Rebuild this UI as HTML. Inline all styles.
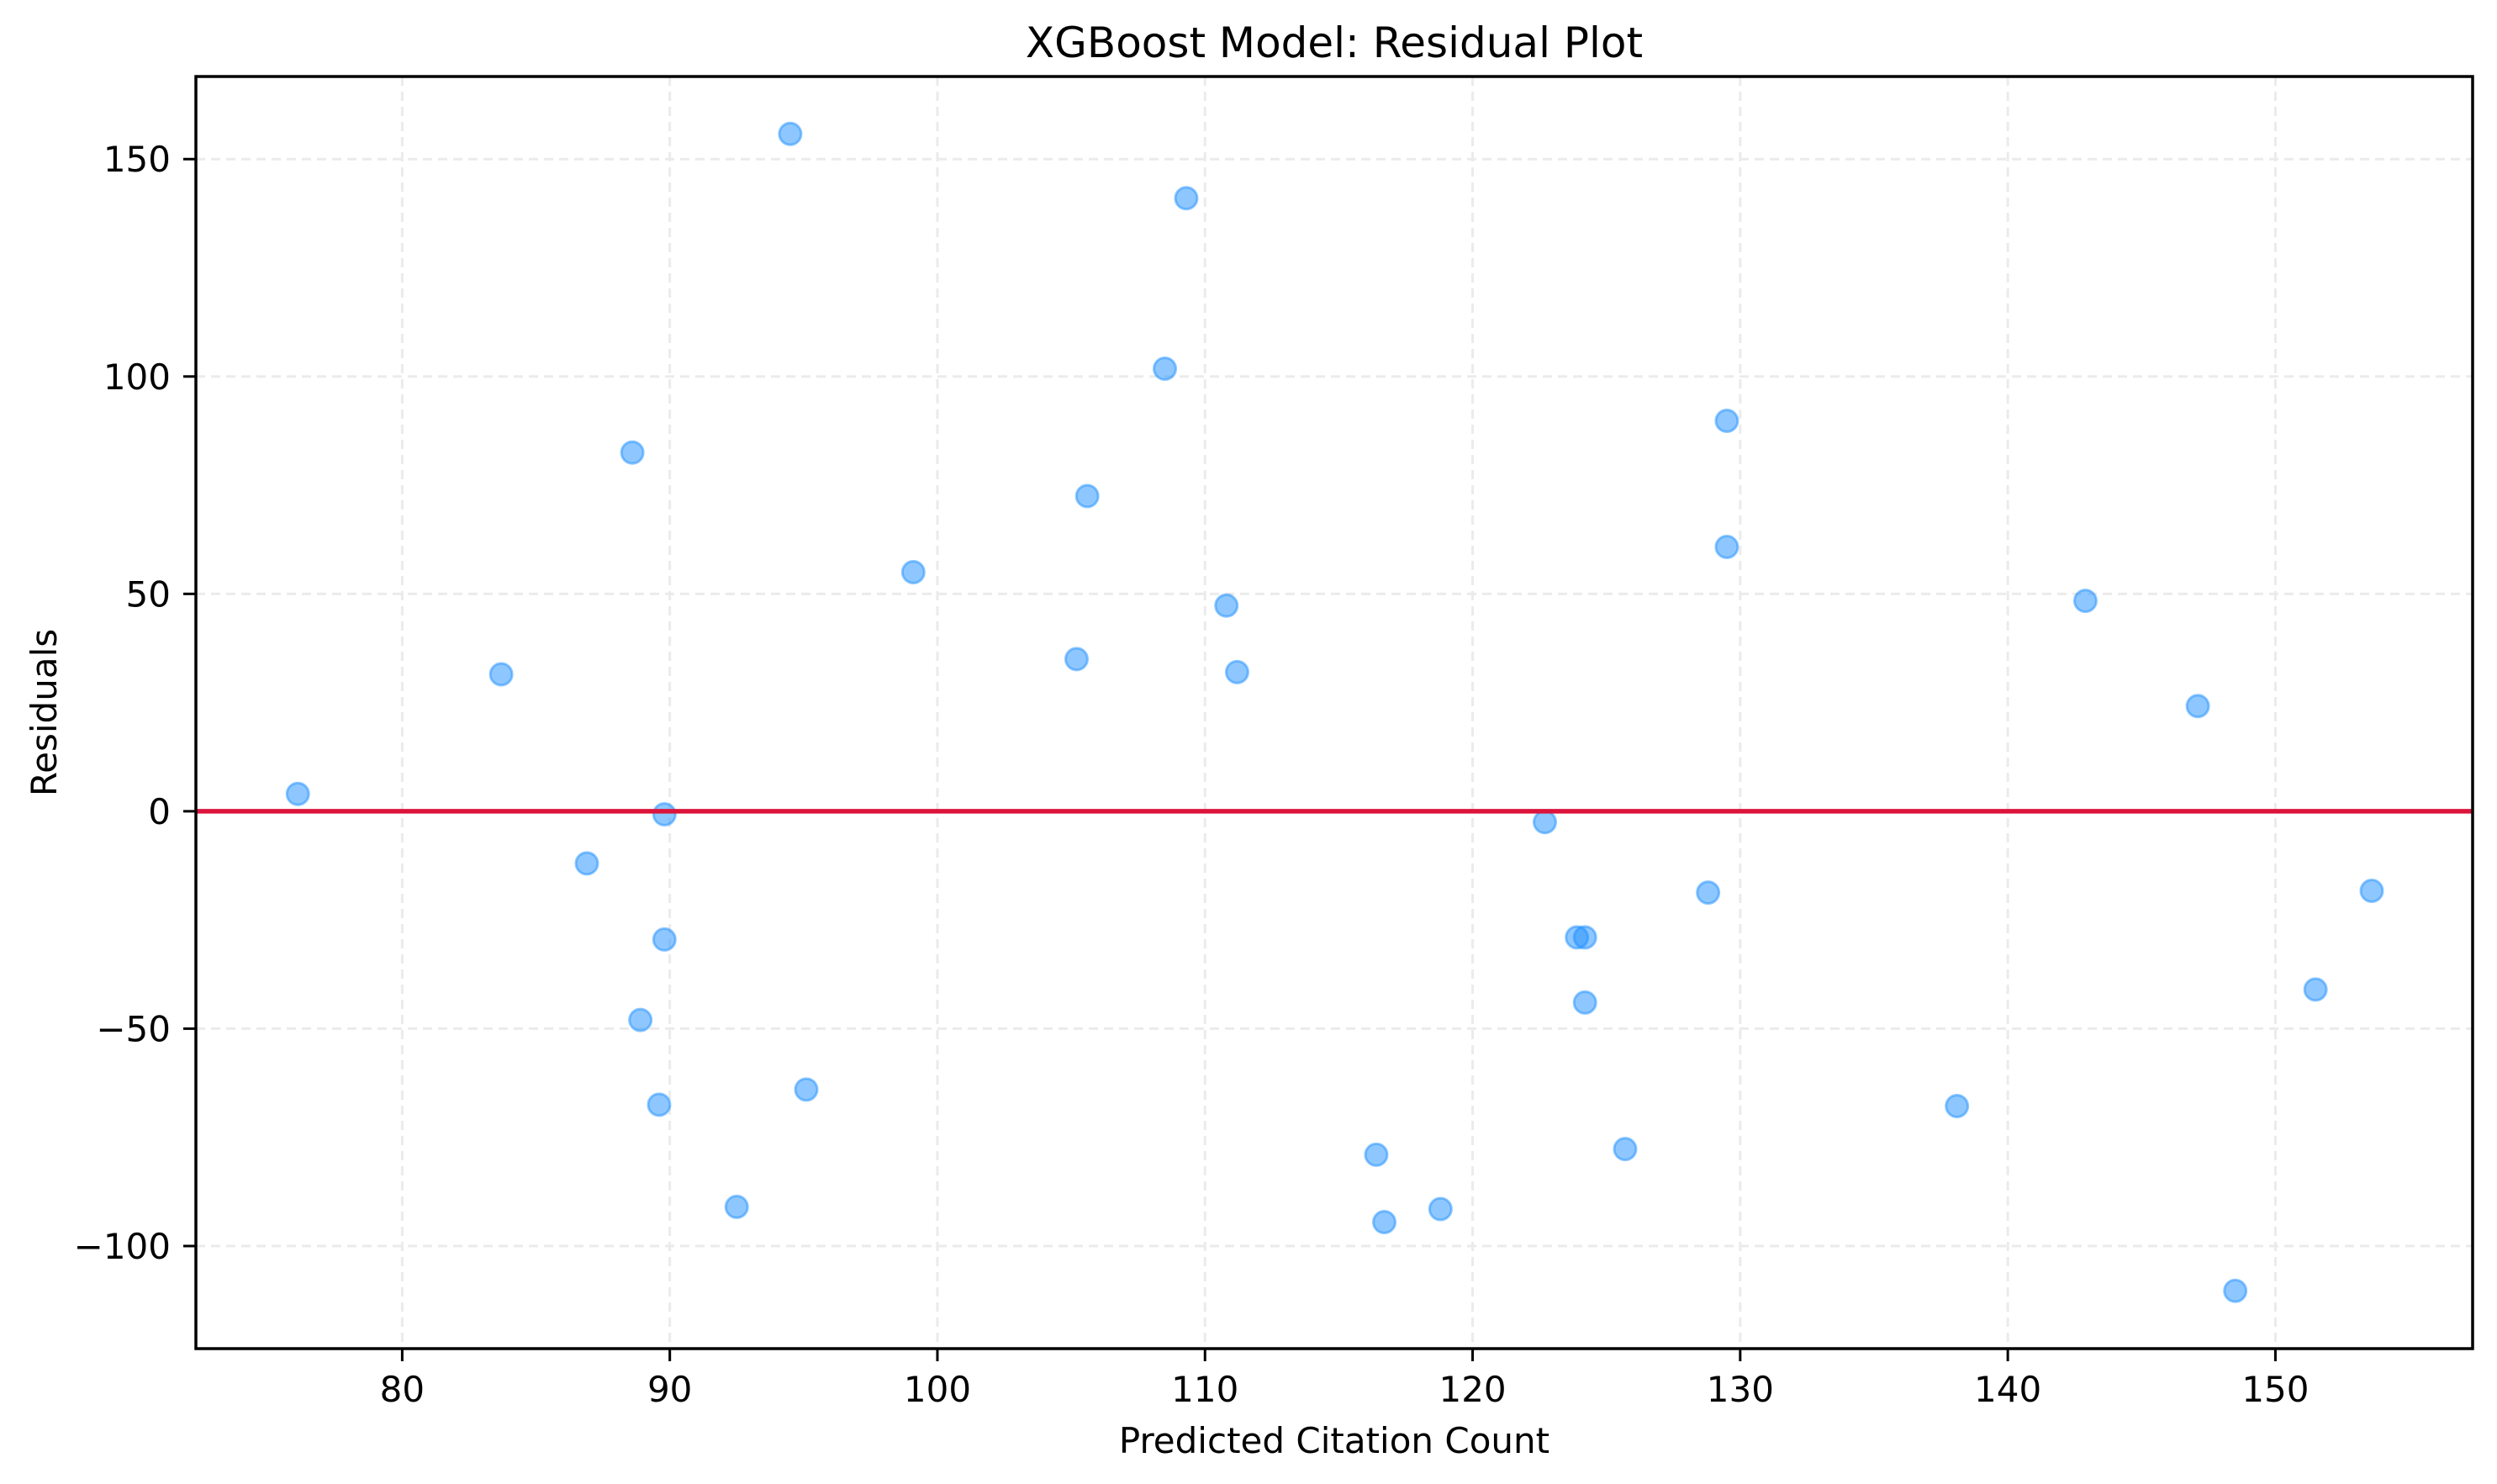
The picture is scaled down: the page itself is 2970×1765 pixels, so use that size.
<!DOCTYPE html>
<html><head><meta charset="utf-8"><style>
html,body{margin:0;padding:0;background:#fff}
svg{display:block;font-family:"DejaVu Sans","Liberation Sans",sans-serif}
</style></head><body>
<svg id="chart" width="2970" height="1765" viewBox="0 0 2970 1765" xmlns="http://www.w3.org/2000/svg">
<rect width="2970" height="1765" fill="#fff"/>
<g id="grid"></g>
<g id="marks"></g>
<g id="axes"></g>
</svg>
<script>
const predicted = [76.1,83.7,86.9,88.6,88.9,89.6,89.8,89.8,92.5,94.5,95.1,99.1,105.2,105.6,108.5,109.3,110.8,111.2,116.4,116.7,118.8,122.7,123.9,124.2,124.2,125.7,128.8,129.5,129.5,138.1,142.9,147.1,148.5,151.5,153.6];
const residuals = [4,31.5,-12,82.5,-48,-67.5,-0.7,-29.5,-91,155.8,-64,55,35,72.5,101.8,141,47.3,32,-79,-94.5,-91.5,-2.5,-29,-29,-44,-77.7,-18.7,89.8,60.8,-67.8,48.4,24.2,-110.3,-41,-18.3];
const xTicks = [80,90,100,110,120,130,140,150];
const yTicks = [-100,-50,0,50,100,150];

const L=233,R=2941,T=91,B=1604;
const xMin=72.29,xMax=157.37,yMin=-123.6,yMax=169.0;
const sx=v=>L+(v-xMin)/(xMax-xMin)*(R-L);
const sy=v=>B-(v-yMin)/(yMax-yMin)*(B-T);
const NS="http://www.w3.org/2000/svg";
function mk(tag,attrs,parent,text){const e=document.createElementNS(NS,tag);for(const k in attrs)e.setAttribute(k,attrs[k]);if(text!==undefined)e.textContent=text;parent.appendChild(e);return e;}
const grid=document.getElementById('grid'),marks=document.getElementById('marks'),axes=document.getElementById('axes');

xTicks.forEach(t=>{
  const g=mk('line',{x1:sx(t),x2:sx(t),y1:T,y2:B,stroke:'#ebebeb','stroke-width':3,'stroke-dasharray':'11 7'},grid);
  
  
  const tk=mk('line',{x1:sx(t),x2:sx(t),y1:B,y2:B+15,stroke:'#000','stroke-width':3},axes);
  
  
  const lb=mk('text',{x:sx(t),y:1667,'font-size':42,'text-anchor':'middle'},axes,String(t));
  
  
});
yTicks.forEach(t=>{
  const g=mk('line',{x1:L,x2:R,y1:sy(t),y2:sy(t),stroke:'#ebebeb','stroke-width':3,'stroke-dasharray':'11 7'},grid);
  
  
  const tk=mk('line',{x1:L-15,x2:L,y1:sy(t),y2:sy(t),stroke:'#000','stroke-width':3},axes);
  
  
  const lb=mk('text',{x:L-30,y:sy(t)+15,'font-size':42,'text-anchor':'end'},axes,(t<0?'\u2212'+Math.abs(t):String(t)));
  
  
});

predicted.forEach((x,i)=>{
  const c=mk('circle',{cx:sx(x),cy:sy(residuals[i]),r:13,fill:'#1e90ff','fill-opacity':0.5,stroke:'#1e90ff','stroke-opacity':0.5,'stroke-width':3},marks);
  
  
});

const zl=mk('line',{x1:L,x2:R,y1:sy(0),y2:sy(0),stroke:'#dc143c','stroke-width':5.5},marks);



const fr=mk('rect',{x:L,y:T,width:R-L,height:B-T,fill:'none',stroke:'#000','stroke-width':3.5},axes);



const ti=mk('text',{x:(L+R)/2,y:68,'font-size':50,'text-anchor':'middle'},axes,'XGBoost Model: Residual Plot');


const xl=mk('text',{x:(L+R)/2,y:1728,'font-size':42,'text-anchor':'middle'},axes,'Predicted Citation Count');


const yl=mk('text',{x:0,y:0,'font-size':42,'text-anchor':'middle',transform:'translate(67,'+((T+B)/2)+') rotate(-90)'},axes,'Residuals');


</script>
</body></html>
